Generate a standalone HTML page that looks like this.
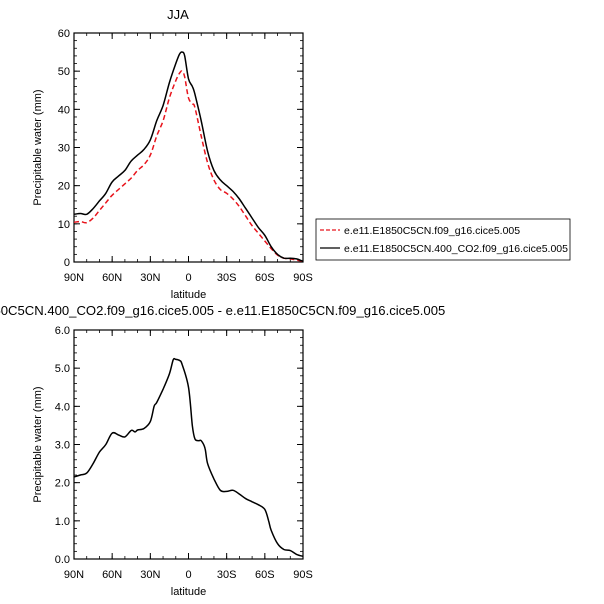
<!DOCTYPE html>
<html><head><meta charset="utf-8"><style>body{margin:0;background:#fff}svg{display:block}text{font-family:"Liberation Sans",Arial,sans-serif;fill:#000}</style></head>
<body>
<svg id="c" width="604" height="604"></svg>
<script>
const lats = [90,85,80,75,70,65,60,55,50,45,40,35,30,25,20,15,10,7,5,3,0,-3,-5,-10,-15,-20,-25,-30,-35,-40,-45,-50,-55,-60,-65,-70,-75,-80,-85,-90];
const blackVals = [12.5,12.7,12.5,14,16,18,21,22.5,24,26.5,28,29.5,32,37,41,47,52,54.5,55,54,48,46,44,37,29,24,21.5,20,18.5,16.5,14,11.5,9,7,4,2,1,1,0.8,0.2];
const redVals = [10.4,10.6,10.3,11.5,13.5,15.5,17.5,19,20.5,22,24,25.5,28,33,37,43,47.5,49.5,50,48.5,43,41.5,40.5,33,26,21.5,19,18,16.5,14.5,12,9.5,7.5,5.5,3.5,1.8,1,0.8,0.5,0.2];
const diffLats = [90,85,80,75,70,65,60,55,50,45,42,40,35,30,27,25,20,15,12,10,7,5,0,-3,-5,-8,-10,-13,-15,-20,-25,-30,-35,-40,-45,-50,-55,-60,-63,-65,-70,-75,-80,-85,-90];
const diffVals = [2.15,2.2,2.25,2.5,2.8,3.0,3.3,3.25,3.2,3.37,3.33,3.38,3.42,3.6,4.0,4.1,4.45,4.85,5.22,5.23,5.2,5.1,4.5,3.5,3.15,3.1,3.1,2.9,2.5,2.1,1.8,1.77,1.8,1.7,1.58,1.5,1.42,1.3,1.0,0.75,0.4,0.25,0.22,0.12,0.07];
const xTicks = [90,60,30,0,-30,-60,-90];
const xTickLabels = ["90N","60N","30N","0","30S","60S","90S"];
const topYTicks = [0,10,20,30,40,50,60];
const botYTicks = [0,1,2,3,4,5,6];
const botYLabels = ["0.0","1.0","2.0","3.0","4.0","5.0","6.0"];

const svg = document.getElementById('c');
const NS = 'http://www.w3.org/2000/svg';
function mk(tag, attrs, parent){const e=document.createElementNS(NS,tag);for(const k in attrs)e.setAttribute(k,attrs[k]);(parent||svg).appendChild(e);return e;}
const X0=74,X1=303;
const sx = v => X0 + (90 - v) / 180 * (X1 - X0);

function panel(name, y0, y1, ymax, yTicks, yLabels, minorStep){
  const sy = v => y1 - v / ymax * (y1 - y0);
  const g = mk('g', {});
  
  
  const r = mk('rect', {x:X0,y:y0,width:X1-X0,height:y1-y0,fill:'none',stroke:'#000','stroke-width':1.2}, g);
  
  
  for (let v=0; v<=ymax+1e-9; v+=minorStep){
    const y=sy(v);
    mk('line',{x1:X0,x2:X0+3,y1:y,y2:y,stroke:'#000','stroke-width':0.8},g);
    mk('line',{x1:X1,x2:X1-3,y1:y,y2:y,stroke:'#000','stroke-width':0.8},g);
  }
  yTicks.forEach((v,i)=>{
    const y=sy(v);
    mk('line',{x1:X0,x2:X0+6,y1:y,y2:y,stroke:'#000','stroke-width':1},g);
    mk('line',{x1:X1,x2:X1-6,y1:y,y2:y,stroke:'#000','stroke-width':1},g);
    const t=mk('text',{x:X0-4,y:y+4,'text-anchor':'end','font-size':11},g);
    t.textContent=yLabels[i];
    
    
  });
  for (let v=-90; v<=90; v+=10){
    const x=sx(v);
    mk('line',{x1:x,x2:x,y1:y1,y2:y1-3,stroke:'#000','stroke-width':0.8},g);
    mk('line',{x1:x,x2:x,y1:y0,y2:y0+3,stroke:'#000','stroke-width':0.8},g);
  }
  xTicks.forEach((v,i)=>{
    const x=sx(v);
    mk('line',{x1:x,x2:x,y1:y1,y2:y1-6,stroke:'#000','stroke-width':1},g);
    mk('line',{x1:x,x2:x,y1:y0,y2:y0+6,stroke:'#000','stroke-width':1},g);
    const t=mk('text',{x:x,y:y1+19,'text-anchor':'middle','font-size':11},g);
    t.textContent=xTickLabels[i];
    
    
  });
  const xt=mk('text',{x:(X0+X1)/2,y:y1+36,'text-anchor':'middle','font-size':11},g);
  xt.textContent='latitude';
  
  
  const cy=(y0+y1)/2;
  const yt=mk('text',{x:41,y:cy,'text-anchor':'middle','font-size':11,transform:`rotate(-90 41 ${cy})`},g);
  yt.textContent='Precipitable water (mm)';
  
  
  return sy;
}
function line(xs, vals, sy, color, dash, name){
  const P = xs.map((v,i)=>[sx(v), sy(vals[i])]);
  let d = 'M'+P[0][0].toFixed(1)+','+P[0][1].toFixed(1);
  for (let i=0;i<P.length-1;i++){
    const p0=P[Math.max(i-1,0)], p1=P[i], p2=P[i+1], p3=P[Math.min(i+2,P.length-1)];
    const c1=[p1[0]+(p2[0]-p0[0])/6, p1[1]+(p2[1]-p0[1])/6];
    const c2=[p2[0]-(p3[0]-p1[0])/6, p2[1]-(p3[1]-p1[1])/6];
    d += 'C'+c1.map(n=>n.toFixed(1)).join(',')+' '+c2.map(n=>n.toFixed(1)).join(',')+' '+p2.map(n=>n.toFixed(1)).join(',');
  }
  const p = mk('path',{d:d,fill:'none',stroke:color,'stroke-width':1.5,'stroke-dasharray':dash||'none','stroke-linejoin':'round'});
  
  
}

const syTop = panel('top-panel', 33, 262, 60, topYTicks, topYTicks.map(String), 2);
line(lats, redVals, syTop, '#e8141c', '5,3', 'series-e1850-line');
line(lats, blackVals, syTop, '#000', null, 'series-co2-line');
const syBot = panel('bottom-panel', 330, 559, 6, botYTicks, botYLabels, 0.2);
line(diffLats, diffVals, syBot, '#000', null, 'difference-line');

let t = mk('text',{x:178,y:19,'text-anchor':'middle','font-size':13});
t.textContent='JJA';


t = mk('text',{x:190,y:315,'text-anchor':'middle','font-size':13.1});
t.textContent='e.e11.E1850C5CN.400_CO2.f09_g16.cice5.005 - e.e11.E1850C5CN.f09_g16.cice5.005';



const lg = mk('g',{});


mk('rect',{x:316,y:219,width:254,height:41,fill:'#fff',stroke:'#000','stroke-width':0.8},lg);
mk('line',{x1:320,x2:340,y1:230,y2:230,stroke:'#e8141c','stroke-width':1.3,'stroke-dasharray':'4,2'},lg);
mk('line',{x1:320,x2:340,y1:248,y2:248,stroke:'#000','stroke-width':1.3},lg);
t=mk('text',{x:344,y:234,'font-size':10.5},lg);
t.textContent='e.e11.E1850C5CN.f09_g16.cice5.005';


t=mk('text',{x:344,y:252,'font-size':10.5},lg);
t.textContent='e.e11.E1850C5CN.400_CO2.f09_g16.cice5.005';


</script>
</body></html>
